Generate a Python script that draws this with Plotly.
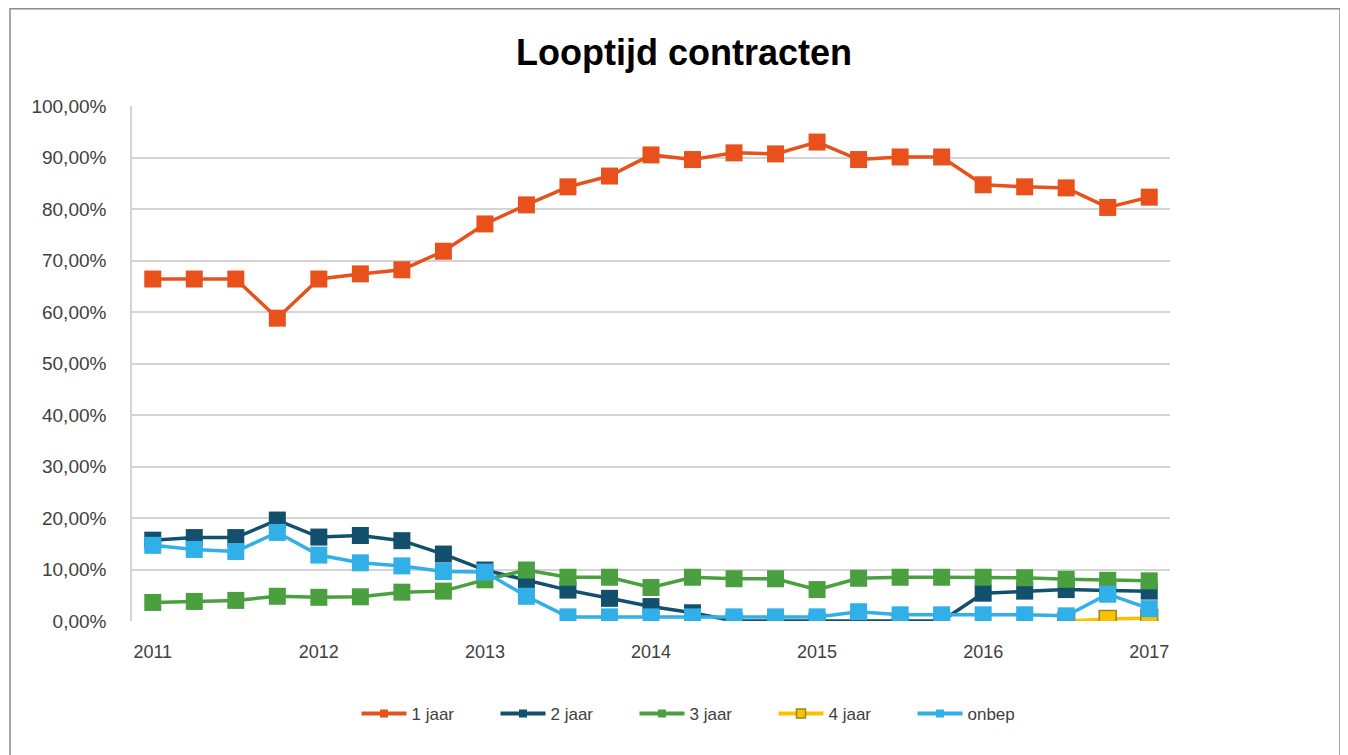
import plotly.graph_objects as go

quarters = list(range(25))
year_ticks = [0, 4, 8, 12, 16, 20, 24]
year_labels = ["2011", "2012", "2013", "2014", "2015", "2016", "2017"]

jaar1 = [66.4, 66.4, 66.4, 58.8, 66.4, 67.4, 68.2, 71.8, 77.1, 80.8, 84.3, 86.4, 90.5,
         89.6, 90.9, 90.7, 93.0, 89.6, 90.1, 90.1, 84.7, 84.3, 84.1, 80.3, 82.3]
jaar2 = [15.7, 16.2, 16.2, 19.6, 16.3, 16.6, 15.6, 13.0, 9.9, 8.0, 6.0, 4.4, 2.8,
         1.6, 0.0, 0.0, 0.0, 0.0, 0.0, 0.0, 5.4, 5.8, 6.1, 5.9, 5.8]
jaar3 = [3.6, 3.8, 4.0, 4.8, 4.6, 4.7, 5.6, 5.8, 8.0, 9.9, 8.5, 8.5, 6.5,
         8.5, 8.2, 8.2, 6.1, 8.3, 8.5, 8.5, 8.5, 8.4, 8.1, 7.9, 7.8]
jaar4 = [None] * 22 + [0.0, 0.4, 0.6]
onbep = [14.7, 13.9, 13.5, 17.2, 12.8, 11.3, 10.7, 9.6, 9.5, 4.8, 0.8, 0.8, 0.8,
         0.8, 0.8, 0.8, 0.8, 1.8, 1.2, 1.2, 1.2, 1.2, 1.0, 5.2, 2.4]

y_ticks = [0, 10, 20, 30, 40, 50, 60, 70, 80, 90, 100]
y_labels = ["0,00%", "10,00%", "20,00%", "30,00%", "40,00%", "50,00%",
            "60,00%", "70,00%", "80,00%", "90,00%", "100,00%"]

series = [
    ("1 jaar", jaar1, "#E8501C", "#E8501C"),
    ("2 jaar", jaar2, "#12506E", "#12506E"),
    ("3 jaar", jaar3, "#4AA03F", "#4AA03F"),
    ("4 jaar", jaar4, "#FFC000", "#8F8A2E"),
    ("onbep", onbep, "#30AFE8", "#30AFE8"),
]

fig = go.Figure()
for name, vals, col, edge in series:
    bw = 1.5 if name == "4 jaar" else 0
    fig.add_trace(go.Scatter(
        x=quarters, y=vals, name=name, mode="lines+markers",
        line=dict(color=col, width=3.5),
        marker=dict(symbol="square", size=17, color=col, line=dict(color=edge, width=bw)),
        showlegend=False, hoverinfo="x+y+name",
    ))
# legend entries with small markers (as in the reference legend)
for name, vals, col, edge in series:
    bw = 1.5 if name == "4 jaar" else 0
    fig.add_trace(go.Scatter(
        x=[None], y=[None], name=name, mode="lines+markers",
        line=dict(color=col, width=4),
        marker=dict(symbol="square", size=9 if name == "4 jaar" else 8, color=col,
                    line=dict(color=edge, width=bw)),
        showlegend=True,
    ))

# page has an 8px body margin: figure coords = page coords - 8
OFF = 8
W, H = 1348 - OFF, 755 - OFF
L, R, T, B = 132 - OFF, 1170 - OFF, 106 - OFF, 621 - OFF
pw, ph = R - L, B - T

def px(x):
    return (x - OFF - L) / pw

def py(y):
    return (B - (y - OFF)) / ph

fig.add_shape(type="rect", xref="paper", yref="paper",
              x0=px(10), x1=px(1340), y0=py(790), y1=(B - 0.75) / ph,
              line=dict(color="#8C8C8C", width=1.5), fillcolor="rgba(0,0,0,0)",
              layer="below")

FONT = "Liberation Sans, Arial, sans-serif"
fig.update_layout(
    width=W, height=H,
    margin=dict(l=L, r=W - R, t=T, b=H - B),
    paper_bgcolor="white", plot_bgcolor="white",
    font=dict(family=FONT, color="#404040", size=18),
    title=dict(text="<b>Looptijd contracten</b>", x=(684 - OFF) / W, xanchor="center",
               y=1 - (52 - OFF) / H, yanchor="middle",
               font=dict(size=36, color="#000000", family=FONT)),
    xaxis=dict(range=[-0.5, 24.5], tickmode="array", tickvals=year_ticks,
               ticktext=year_labels, showgrid=False, zeroline=False,
               showline=False, ticks="", ticklabelstandoff=18,
               tickfont=dict(size=18, color="#404040")),
    yaxis=dict(range=[0, 100], tickmode="array", tickvals=y_ticks, ticktext=y_labels,
               showgrid=True, gridcolor="#D4D4D4", gridwidth=1.5, zeroline=False,
               showline=True, linecolor="#D4D4D4", linewidth=1.5, ticks="",
               ticklabelstandoff=20, tickfont=dict(size=19, color="#404040")),
    legend=dict(orientation="h", x=px(704), xanchor="center", y=py(714), yanchor="middle",
                font=dict(size=17, color="#404040"), itemwidth=45,
                entrywidth=79, entrywidthmode="pixels"),
)

fig.write_html("out.html")
